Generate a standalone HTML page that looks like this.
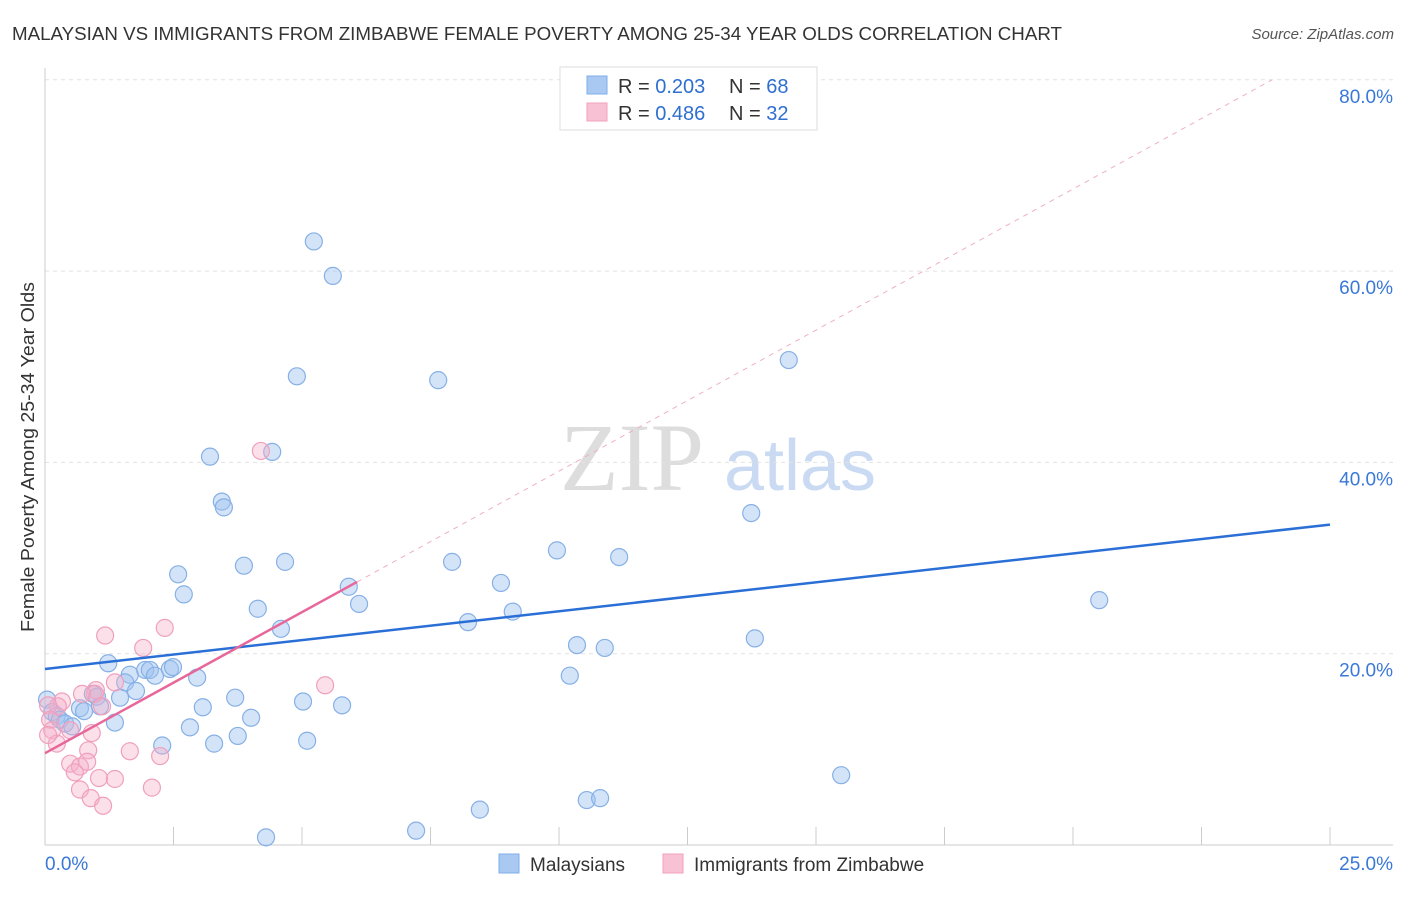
<!DOCTYPE html>
<html><head><meta charset="utf-8">
<style>
body{margin:0;background:#fff;font-family:"Liberation Sans",sans-serif;}
svg text{font-family:"Liberation Sans",sans-serif;}
</style></head>
<body>
<svg id="chart" width="1406" height="892" xmlns="http://www.w3.org/2000/svg">
<rect width="1406" height="892" fill="#fff"/>
<text x="12" y="40" font-size="18" fill="#333" textLength="1050" lengthAdjust="spacingAndGlyphs">MALAYSIAN VS IMMIGRANTS FROM ZIMBABWE FEMALE POVERTY AMONG 25-34 YEAR OLDS CORRELATION CHART</text>
<text x="1394" y="39" font-size="15" fill="#555" text-anchor="end" font-style="italic">Source: ZipAtlas.com</text>
<text x="34" y="632" font-size="18" fill="#333" textLength="350" lengthAdjust="spacingAndGlyphs" transform="rotate(-90 34 632)">Female Poverty Among 25-34 Year Olds</text>
<g>
<text x="632" y="490" font-size="96" fill="#ddd" text-anchor="middle" font-family="Liberation Serif" style="font-family:'Liberation Serif',serif">ZIP</text>
<text x="800" y="490" font-size="72" fill="#c9daf2" text-anchor="middle">atlas</text>
</g>
<g id="grid"></g>
<g id="axes"></g>
<g id="marks"></g>
<g>
<rect x="560" y="67" width="257" height="63" fill="#fff" stroke="#ddd"/>
<rect x="587" y="76" width="20" height="18" fill="#a9c8f2" stroke="#7faee8"/>
<rect x="587" y="103" width="20" height="18" fill="#f8c2d4" stroke="#f0a0bd"/>
<text x="618" y="93" font-size="20" fill="#333">R = <tspan fill="#2f6fd0">0.203</tspan><tspan x="729">N = </tspan><tspan fill="#2f6fd0">68</tspan></text>
<text x="618" y="120" font-size="20" fill="#333">R = <tspan fill="#2f6fd0">0.486</tspan><tspan x="729">N = </tspan><tspan fill="#2f6fd0">32</tspan></text>
</g>
<g>
<rect x="499" y="854" width="20" height="19" fill="#a9c8f2" stroke="#7faee8"/>
<text x="530" y="871" font-size="19" fill="#333">Malaysians</text>
<rect x="663" y="854" width="20" height="19" fill="#f8c2d4" stroke="#f0a0bd"/>
<text x="694" y="871" font-size="19" fill="#333">Immigrants from Zimbabwe</text>
</g>
</svg>
<script>
const yTicks=[20,40,60,80];
const yTickLabels=["20.0%","40.0%","60.0%","80.0%"];
const xTickLabels=["0.0%","25.0%"];
const blueX=[5.23,5.60,4.90,7.65,14.47,3.21,4.42,3.44,3.48,13.74,3.87,4.67,7.92,9.96,11.17,2.59,2.70,4.14,5.91,6.11,8.87,9.10,8.23,4.59,20.51,10.35,10.89,13.81,1.23,1.65,1.95,2.04,2.14,2.43,2.49,2.96,1.56,1.77,0.93,1.01,3.70,3.07,5.02,5.78,0.04,0.14,0.23,0.68,0.76,1.07,1.46,0.29,0.39,0.53,1.36,2.82,4.01,3.75,3.29,2.28,5.10,10.21,15.49,10.54,10.80,8.46,7.22,4.30];
const blueY=[63.1,59.5,49.0,48.6,50.7,40.6,41.1,35.9,35.3,34.7,29.2,29.6,29.6,30.8,30.1,28.3,26.2,24.7,27.0,25.2,27.4,24.4,23.3,22.6,25.6,20.9,20.6,21.6,19.0,17.8,18.3,18.3,17.7,18.4,18.6,17.5,17.0,16.1,15.8,15.5,15.4,14.4,15.0,14.6,15.2,13.9,13.5,14.3,14.0,14.5,15.4,13.1,12.7,12.4,12.8,12.3,13.3,11.4,10.6,10.4,10.9,17.7,7.3,4.7,4.9,3.7,1.5,0.8];
const pinkX=[4.20,1.17,2.33,1.91,5.45,1.36,0.99,0.97,0.72,0.33,0.25,0.06,0.10,0.14,0.23,0.49,0.91,1.11,0.84,1.65,2.24,0.49,0.68,0.58,0.82,1.05,1.36,0.68,0.89,1.13,2.08,0.06];
const pinkY=[41.2,21.9,22.7,20.6,16.7,17.0,16.2,15.8,15.8,15.0,14.5,14.6,13.1,12.0,10.6,12.0,11.7,14.5,9.9,9.8,9.3,8.5,8.2,7.6,8.7,7.0,6.9,5.8,4.9,4.1,6.0,11.5];
const blueTrend=[18.4,33.5];
const pinkTrend=[9.6,27.5];
const pinkTrendEnd=6.07;
const NS="http://www.w3.org/2000/svg";
const sx=v=>45+v/25*1285;
const sy=v=>845-v/20*191.3;
function mk(tag,attrs,parent){const e=document.createElementNS(NS,tag);for(const k in attrs)e.setAttribute(k,attrs[k]);parent.appendChild(e);return e;}
const grid=document.getElementById('grid'),axes=document.getElementById('axes'),marks=document.getElementById('marks');
yTicks.forEach((t,i)=>{
 const l=mk('line',{x1:45,x2:1393,y1:sy(t),y2:sy(t),stroke:'#e2e2e2','stroke-dasharray':'4,4'},grid);
 
 
 const tx=mk('text',{x:1393,y:sy(t)+23,'font-size':19,fill:'#3a78d8','text-anchor':'end'},axes);
 tx.textContent=yTickLabels[i];
 
 
});
const ax=mk('line',{x1:45,x2:1393,y1:845,y2:845,stroke:'#ccc'},axes);


const ay=mk('line',{x1:45,x2:45,y1:68,y2:845,stroke:'#ccc'},axes);


for(let i=0;i<=10;i++){
 const t=mk('line',{x1:sx(i*2.5),x2:sx(i*2.5),y1:827,y2:845,stroke:'#ccc'},axes);
 
 
}
const xl0=mk('text',{x:45,y:870,'font-size':19,fill:'#3a78d8'},axes);xl0.textContent=xTickLabels[0];


const xl1=mk('text',{x:1393,y:870,'font-size':19,fill:'#3a78d8','text-anchor':'end'},axes);xl1.textContent=xTickLabels[1];


blueX.forEach((x,i)=>{
 const c=mk('circle',{cx:sx(x),cy:sy(blueY[i]),r:8.5,fill:'rgba(160,196,240,0.45)',stroke:'#86b0e6','stroke-width':1.2},marks);
 
 
});
pinkX.forEach((x,i)=>{
 const c=mk('circle',{cx:sx(x),cy:sy(pinkY[i]),r:8.5,fill:'rgba(246,175,200,0.4)',stroke:'#f0a0bd','stroke-width':1.2},marks);
 
 
});
const slope=(pinkTrend[1]-pinkTrend[0])/pinkTrendEnd;
const xEnd=(80-pinkTrend[0])/slope;
const pd=mk('line',{x1:sx(pinkTrendEnd),y1:sy(pinkTrend[1]),x2:sx(xEnd),y2:sy(80),stroke:'#eeb0c4','stroke-width':1,'stroke-dasharray':'5,5'},marks);


const bl=mk('line',{x1:sx(0),y1:sy(blueTrend[0]),x2:sx(25),y2:sy(blueTrend[1]),stroke:'#2a6fd6','stroke-width':2.5},marks);


const pl=mk('line',{x1:sx(0),y1:sy(pinkTrend[0]),x2:sx(pinkTrendEnd),y2:sy(pinkTrend[1]),stroke:'#e8679a','stroke-width':2.5},marks);


</script>
</body></html>
